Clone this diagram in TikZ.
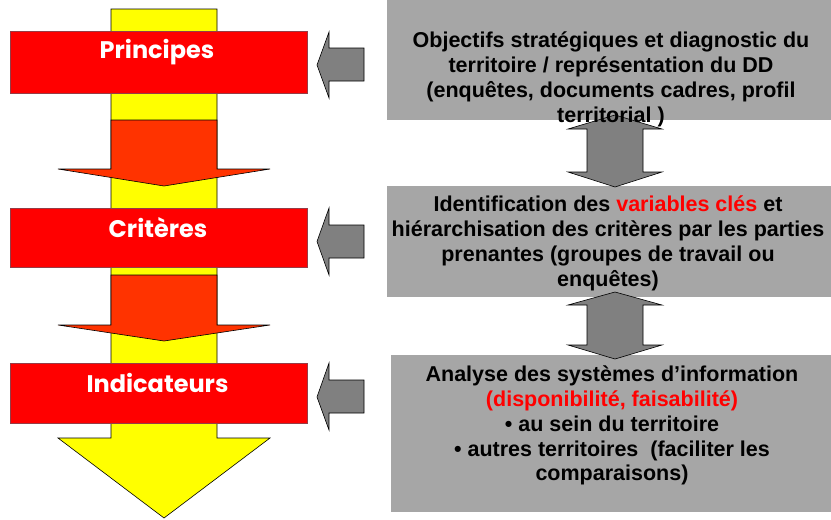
\documentclass[tikz,border=0pt]{standalone}
\usepackage{fontspec}
\setmainfont{Liberation Sans}
\newfontfamily\titlefont{Poppins}
\begin{document}
\begin{tikzpicture}[x=1pt,y=-1pt,
  yellowarrow/.style={fill={rgb,255:red,255;green,255;blue,0},draw=black,line width=0.6pt},
  orangearrow/.style={fill={rgb,255:red,255;green,51;blue,0},draw=black,line width=0.6pt},
  redbox/.style={fill={rgb,255:red,255;green,0;blue,0},draw={rgb,255:red,150;green,60;blue,70},line width=0.4pt,inner sep=0pt,minimum width=297pt},
  redlabel/.style={text=white,font=\titlefont\bfseries\fontsize{24}{28}\selectfont,inner sep=0pt},
  greybox/.style={fill={rgb,255:red,166;green,166;blue,166},draw=none,inner sep=0pt},
  greytext/.style={align=center,font=\bfseries\fontsize{21.5}{24.8}\selectfont,inner sep=0pt},
  greyarrow/.style={fill={rgb,255:red,128;green,128;blue,128},draw=black,line width=0.6pt},
  hl/.style={text={rgb,255:red,255;green,0;blue,0}}
]
\useasboundingbox (0,0) rectangle (831,520);
\clip (0,0) rectangle (831,520);

% main yellow arrow
\draw[yellowarrow] (111,9) -- (217,9) -- (217,438) -- (270,438) -- (164,518) -- (58,438) -- (111,438) -- cycle;
% orange arrows
\draw[orangearrow] (111,120) -- (217,120) -- (217,169) -- (270,169) -- (164,186) -- (58,169) -- (111,169) -- cycle;
\draw[orangearrow] (111,275) -- (217,275) -- (217,325) -- (270,325) -- (164,341) -- (58,325) -- (111,325) -- cycle;

% red boxes
\node[redbox,minimum height=62pt] (principes) at (158.5,62) {};
\node[redbox,minimum height=59pt] (criteres) at (158.5,237.5) {};
\node[redbox,minimum height=60pt] (indicateurs) at (158.5,393) {};
\node[redlabel] (tprincipes) at (157,52) {Principes};
\node[redlabel] (tcriteres) at (158,228) {Critères};
\node[redlabel] (tindicateurs) at (157.5,383) {Indicateurs};

% grey boxes
\node[greybox,minimum width=448pt,minimum height=125pt] (obj) at (611,57.5) {};
\node[greybox,minimum width=448pt,minimum height=111pt] (ident) at (611,241.5) {};
\node[greybox,minimum width=444pt,minimum height=157pt] (analyse) at (613,433.5) {};

% double arrows between grey boxes
\draw[greyarrow] (615,115) -- (662,129) -- (643,129) -- (643,172) -- (662,172) -- (615,187) -- (568,172) -- (587,172) -- (587,129) -- (568,129) -- cycle;
\draw[greyarrow] (615,292) -- (662,305) -- (643,305) -- (643,345) -- (662,345) -- (615,359) -- (568,345) -- (587,345) -- (587,305) -- (568,305) -- cycle;

% grey left arrows
\draw[greyarrow] (317,65) -- (329,32) -- (329,48) -- (364,48) -- (364,81) -- (329,81) -- (329,98) -- cycle;
\draw[greyarrow] (317,241.5) -- (329,208) -- (329,225) -- (364,225) -- (364,258) -- (329,258) -- (329,275) -- cycle;
\draw[greyarrow] (317,397) -- (329,363) -- (329,380) -- (364,380) -- (364,413) -- (329,413) -- (329,430) -- cycle;

% grey box texts
\node[greytext] (tobj) at (611,79.5) {Objectifs stratégiques et diagnostic du\\territoire / représentation du DD\\(enquêtes, documents cadres, profil\\territorial )};
\node[greytext] (tident) at (608,243.5) {Identification des \textcolor{red}{variables clés} et\\hiérarchisation des critères par les parties\\prenantes (groupes de travail ou\\enquêtes)};
\node[greytext] (tanalyse) at (612,425.6) {Analyse des systèmes d’information\\\textcolor{red}{(disponibilité, faisabilité)}\\• au sein du territoire\\• autres territoires~ (faciliter les\\comparaisons)};
\end{tikzpicture}
\end{document}
